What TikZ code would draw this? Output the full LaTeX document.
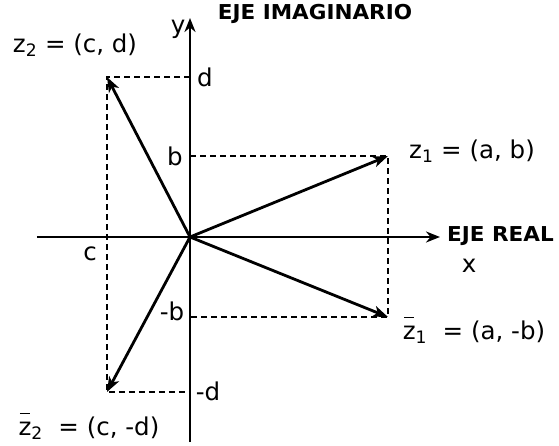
\documentclass[tikz,border=0pt]{standalone}
\usepackage{fontspec}
\setmainfont{DejaVu Sans}
\newfontfamily\axisfont{DejaVu Sans Bold}[FakeStretch=1.05]
\usetikzlibrary{arrows.meta}
\newcommand{\zbar}{\makebox[0pt][l]{\raisebox{0.88em}{\hspace{0.05em}\rule{0.4em}{0.05em}}}z}

\begin{document}
\begin{tikzpicture}[x=1pt,y=1pt,
    every node/.style={font=\fontsize{24.5}{28}\selectfont, inner sep=0pt},
    axislabel/.style={font=\fontsize{20.5}{24}\axisfont},
    axis/.style={line width=2.8pt, -{Stealth[length=14pt,width=11pt]}},
    vec/.style={line width=2.8pt, -{Stealth[length=15pt,width=11pt,inset=4pt]}},
    guide/.style={line width=1.6pt, dash pattern=on 6pt off 4pt}]
  \useasboundingbox (-190,-208) rectangle (369,237);
  % axes
  \coordinate (O) at (0,0);
  \coordinate (xl) at (-153,0);
  \coordinate (xr) at (250,0);
  \coordinate (yb) at (0,-205);
  \coordinate (yt) at (0,219);
  \draw[axis] (xl) -- (xr);
  \draw[axis] (yb) -- (yt);
  % points
  \coordinate (z1) at (198,81);
  \coordinate (z1c) at (198,-80);
  \coordinate (z2) at (-83,160);
  \coordinate (z2c) at (-83,-155);
  \coordinate (yB) at (0,81);
  \coordinate (ymB) at (0,-80);
  \coordinate (yD) at (0,160);
  \coordinate (ymD) at (0,-155);
  % dashed guides
  \draw[guide] (yB) -- (z1) -- (z1c) -- (ymB);
  \draw[guide] (yD) -- (z2) -- (z2c) -- (ymD);
  % vectors
  \draw[vec] (O) -- (z1);
  \draw[vec] (O) -- (z1c);
  \draw[vec] (O) -- (z2);
  \draw[vec] (O) -- (z2c);
  % labels
  \node (ylab) at (-12,208) {y};
  \node[axislabel, anchor=base] (imlab) at (125,218) {EJE IMAGINARIO};
  \node[axislabel, anchor=west] (relab) at (257,1) {EJE REAL};
  \node (xlab) at (279,-29) {x};
  \node (z2lab) at (-115,192) {z\textsubscript{2} = (c, d)};
  \node (z1lab) at (282,86) {z\textsubscript{1} = (a, b)};
  \node (z1clab) at (284,-93) {\zbar\textsubscript{1}\ \ = (a, -b)};
  \node (z2clab) at (-101,-189) {\zbar\textsubscript{2}\ \ = (c, -d)};
  \node (dlab) at (15,160) {d};
  \node (blab) at (-15,81) {b};
  \node (clab) at (-100,-17) {c};
  \node (mblab) at (-18,-74) {-b};
  \node (mdlab) at (18,-154) {-d};
\end{tikzpicture}
\end{document}
